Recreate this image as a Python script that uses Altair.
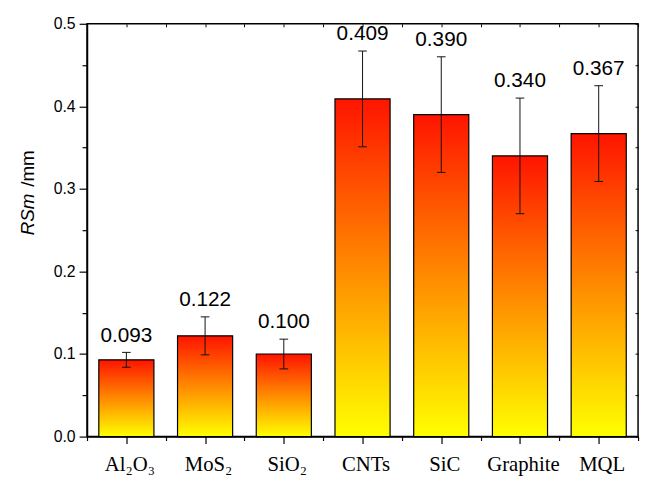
import altair as alt
import pandas as pd

categories = ["Al₂O₃", "MoS₂", "SiO₂", "CNTs", "SiC", "Graphite", "MQL"]
values = [0.093, 0.122, 0.100, 0.409, 0.390, 0.340, 0.367]
errors = [0.009, 0.023, 0.018, 0.058, 0.070, 0.070, 0.058]
labels = ["0.093", "0.122", "0.100", "0.409", "0.390", "0.340", "0.367"]

df = pd.DataFrame({
    "idx": list(range(len(categories))),
    "cat": categories,
    "val": values,
    "err": errors,
    "lab": labels,
})

cat_array = "[" + ",".join("'" + c + "'" for c in categories) + "]"
x_ticks = [i / 2 for i in range(-1, 2 * len(categories))]
y_ticks = [round(i * 0.05, 2) for i in range(11)]

xscale = alt.Scale(domain=[-0.5, len(categories) - 0.5], nice=False, zero=False)
yscale = alt.Scale(domain=[0, 0.5], nice=False)

x_axis = alt.Axis(
    values=x_ticks,
    labelExpr="round(datum.value*2)%2 != 0 ? '' : " + cat_array + "[round(datum.value)]",
    tickSize={"condition": {"test": "round(datum.value*2)%2 != 0", "value": 4}, "value": 7},
    tickColor="black", tickWidth=1.2,
    domainColor="black", domainWidth=1.5,
    labelFont="Liberation Serif", labelFontSize=21, labelColor="black",
    labelPadding=10, labelOffset=3, grid=False, title=None, labelAngle=0,
)
y_axis = alt.Axis(
    values=y_ticks,
    labelExpr="round(datum.value*20)%2 != 0 ? '' : format(datum.value, '.1f')",
    tickSize={"condition": {"test": "round(datum.value*20)%2 != 0", "value": 5}, "value": 8},
    tickColor="black", tickWidth=1.2,
    domainColor="black", domainWidth=1.5,
    labelFont="Liberation Sans", labelFontSize=16, labelColor="black",
    labelPadding=4, grid=False, title=None,
)

base = alt.Chart(df)

bars = base.transform_calculate(
    x0="datum.idx - 0.35", x1="datum.idx + 0.35"
).mark_bar(
    color=alt.Gradient(
        gradient="linear",
        stops=[alt.GradientStop(color="#ff1400", offset=0),
               alt.GradientStop(color="#ff8a00", offset=0.5),
               alt.GradientStop(color="#ffff00", offset=1)],
        x1=0, x2=0, y1=0, y2=1,
    ),
    stroke="black", strokeWidth=1.2,
).encode(
    x=alt.X("x0:Q", scale=xscale, axis=x_axis),
    x2="x1:Q",
    y=alt.Y("val:Q", scale=yscale, axis=y_axis),
    y2=alt.datum(0),
)

err = base.transform_calculate(
    lo="datum.val - datum.err", hi="datum.val + datum.err",
    c0="datum.idx - 0.055", c1="datum.idx + 0.055",
)
err_rule = err.mark_rule(color="#111111", strokeWidth=1).encode(
    x=alt.X("idx:Q", axis=None), y=alt.Y("lo:Q", axis=None), y2="hi:Q"
)
cap_hi = err.mark_rule(color="#111111", strokeWidth=1).encode(
    x=alt.X("c0:Q", axis=None), x2="c1:Q", y=alt.Y("hi:Q", axis=None)
)
cap_lo = err.mark_rule(color="#111111", strokeWidth=1).encode(
    x=alt.X("c0:Q", axis=None), x2="c1:Q", y=alt.Y("lo:Q", axis=None)
)

texts = err.mark_text(
    font="Liberation Sans", fontSize=21, color="black",
    baseline="middle", align="center", dy=-17,
).encode(x=alt.X("idx:Q", axis=None), y=alt.Y("hi:Q", axis=None), text="lab:N")

title_a = alt.Chart(pd.DataFrame({"t": ["RSm"]})).mark_text(
    font="Liberation Sans", fontSize=19, fontStyle="italic", angle=270,
    align="right", baseline="alphabetic", color="black",
).encode(x=alt.value(-54), y=alt.value(172), text="t:N")
title_b = alt.Chart(pd.DataFrame({"t": ["/mm"]})).mark_text(
    font="Liberation Sans", fontSize=19, angle=270,
    align="left", baseline="alphabetic", color="black",
).encode(x=alt.value(-54), y=alt.value(165), text="t:N")

mirror = base.mark_point(opacity=0).encode(
    x=alt.X("idx:Q", scale=xscale, axis=alt.Axis(
        orient="top", values=x_ticks, labels=False, domain=False,
        tickSize=3, offset=-3, tickColor="black", tickWidth=1, grid=False, title=None)),
    y=alt.Y("val:Q", scale=yscale, axis=alt.Axis(
        orient="right", values=y_ticks, labels=False, domain=False,
        tickSize=3, offset=-3, tickColor="black", tickWidth=1, grid=False, title=None)),
)

chart = alt.layer(
    bars, err_rule, cap_hi, cap_lo, texts, title_a, title_b, mirror
).resolve_axis(x="independent", y="independent").properties(
    width=558, height=418,
    padding={"left": 80, "top": 13, "right": 5, "bottom": 43},
    autosize=alt.AutoSizeParams(type="none"),
).configure_view(stroke="black", strokeWidth=1.5)

chart.save("out.html", embed_options={"renderer": "svg", "actions": False})
